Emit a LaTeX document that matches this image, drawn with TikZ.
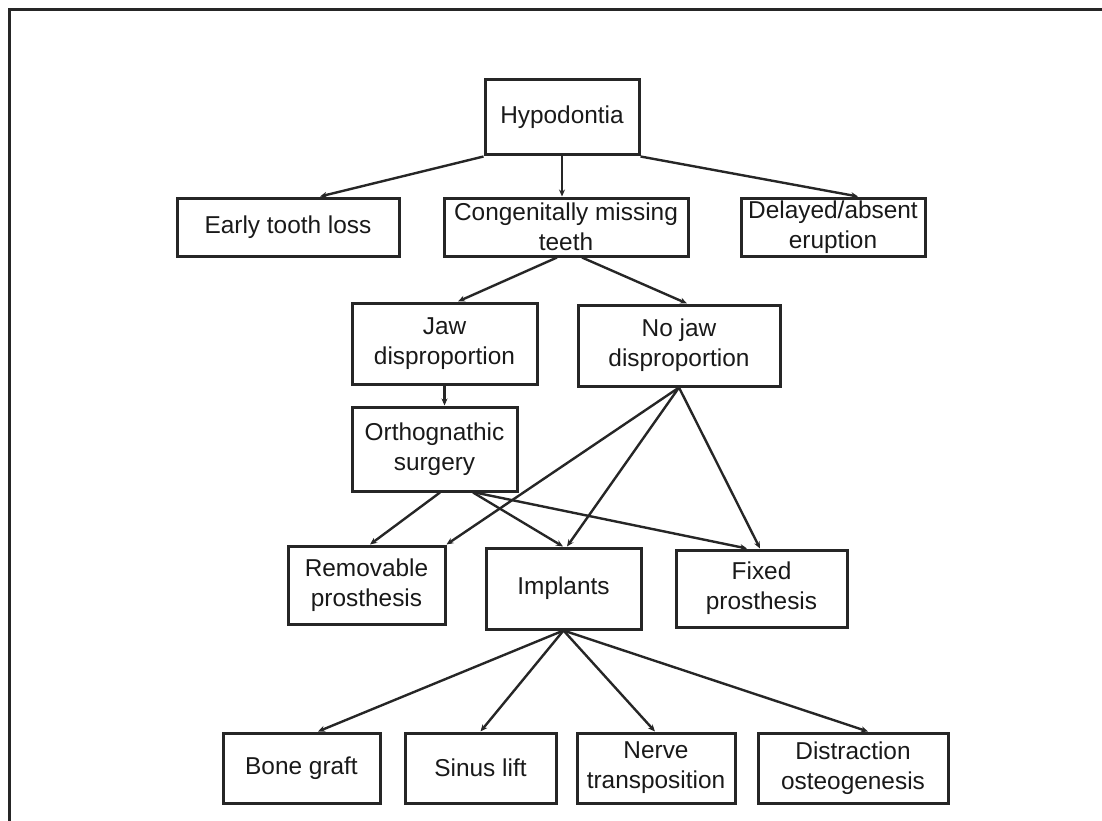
\documentclass[tikz,border=0pt]{standalone}
\usepackage{fontspec}
\setmainfont{Liberation Sans}
\usetikzlibrary{arrows.meta}
\begin{document}
\begin{tikzpicture}[x=1pt,y=-1pt,
  box/.style={draw=black!85,line width=3pt,rectangle,align=center,inner sep=2pt,
    font=\fontsize{24.4}{30}\selectfont,text=black!90},
  conn/.style={draw=black!85,line width=2.4pt,-{Stealth[length=7pt,width=6pt]}}]
\useasboundingbox (0,0) rectangle (1102,821);
\draw[line width=3pt,black!85] (9,821) -- (9,10) -- (1102,10);
% nodes
\node[box,minimum width=154pt,minimum height=75pt] (hypo) at (562,117.5) {Hypodontia};
\node[box,minimum width=222pt,minimum height=58pt] (early) at (288,227) {Early tooth loss};
\node[box,minimum width=244pt,minimum height=58pt] (cong) at (566,227) {Congenitally missing\\teeth};
\node[box,minimum width=184pt,minimum height=58pt] (delay) at (833,227) {Delayed/absent\\eruption};
\node[box,minimum width=185pt,minimum height=81pt] (jaw) at (444.5,343.5) {Jaw\\disproportion};
\node[box,minimum width=202pt,minimum height=81pt] (nojaw) at (679,345.5) {No jaw\\disproportion};
\node[box,minimum width=165pt,minimum height=84pt] (ortho) at (434.5,449) {Orthognathic\\surgery};
\node[box,minimum width=157pt,minimum height=78pt] (remov) at (366.5,585) {Removable\\prosthesis};
\node[box,minimum width=155pt,minimum height=81pt] (impl) at (563.5,588.5) {Implants};
\node[box,minimum width=171pt,minimum height=77pt] (fixed) at (761.5,588.5) {Fixed\\prosthesis};
\node[box,minimum width=157pt,minimum height=70pt] (bone) at (301.5,768) {Bone graft};
\node[box,minimum width=151pt,minimum height=70pt] (sinus) at (480.5,768) {Sinus lift};
\node[box,minimum width=158pt,minimum height=70pt] (nerve) at (656,768) {Nerve\\transposition};
\node[box,minimum width=190pt,minimum height=70pt] (distr) at (853,768) {Distraction\\osteogenesis};
% connectors
\draw[conn] (hypo.south west) -- ([xshift=32pt]early.north);
\draw[conn] (hypo.south) -- (hypo.south |- cong.north);
\draw[conn] (hypo.south east) -- ([xshift=25pt]delay.north);
\draw[conn] ([xshift=-9pt]cong.south) -- ([xshift=13.5pt]jaw.north);
\draw[conn] ([xshift=16pt]cong.south) -- ([xshift=8pt]nojaw.north);
\draw[conn] (jaw.south) -- (jaw.south |- ortho.north);
\draw[conn] ([xshift=5.5pt]ortho.south) -- ([xshift=3.5pt]remov.north);
\draw[conn] ([xshift=38.5pt]ortho.south) -- ([xshift=-0.5pt]impl.north);
\draw[conn] ([xshift=40.5pt]ortho.south) -- ([xshift=-14.5pt]fixed.north);
\draw[conn] (nojaw.south) -- (remov.north east);
\draw[conn] (nojaw.south) -- ([xshift=3.5pt]impl.north);
\draw[conn] (nojaw.south) -- ([xshift=-1.5pt]fixed.north);
\draw[conn] (impl.south) -- ([xshift=16.5pt]bone.north);
\draw[conn] (impl.south) -- (sinus.north);
\draw[conn] (impl.south) -- ([xshift=-1pt]nerve.north);
\draw[conn] (impl.south) -- ([xshift=15pt]distr.north);
\end{tikzpicture}
\end{document}
